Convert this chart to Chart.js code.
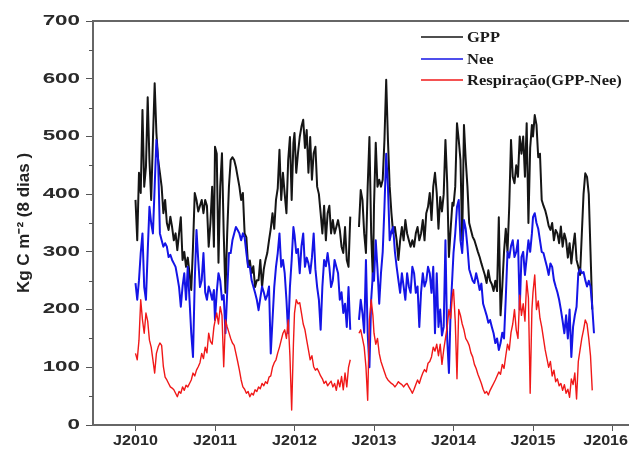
<!DOCTYPE html>
<html>
<head>
<meta charset="utf-8">
<script src="https://cdn.jsdelivr.net/npm/chart.js@4.4.1/dist/chart.umd.min.js"></script>
<style>
  html, body { margin: 0; padding: 0; background: #fff; }
  #wrap { width: 629px; height: 452px; }
</style>
</head>
<body>
<div id="wrap"><canvas id="chart-carbono" width="629" height="452"></canvas></div>
<script>
// 8-day composites, 46 per year, starting J2010
var tickYears = [2010, 2011, 2012, 2013, 2014, 2015, 2016];
var tickLabels = ['J2010', 'J2011', 'J2012', 'J2013', 'J2014', 'J2015', 'J2016'];
var yTicks = [0, 100, 200, 300, 400, 500, 600, 700];
var seriesNames = ['GPP', 'Nee', 'Respiração(GPP-Nee)'];

var gpp = [
  390, 320, 437, 402, 546, 413, 447, 568, 459, 390, 494, 592, 506, 459, 437, 413, 367, 390, 350, 338, 361, 343, 320, 332, 303, 332, 360, 286, 300, 274, 290, 263, 234, 309, 402, 390, 370, 380, 390, 367, 390, 380, 309, 350, 413, 309,
  482, 470, 281, 413, 471, 332, 229, 332, 413, 459, 464, 459, 447, 430, 413, 390, 402, 332, 325, 274, 285, 263, 275, 239, 251, 251, 286, 239, 270, 286, 298, 320, 340, 367, 340, 390, 410, 477, 390, 437, 400, 367, 459, 499, 390, 489,
  506, 437, 471, 499, 517, 529, 480, 511, 437, 499, 425, 471, 482, 413, 400, 367, 332, 380, 320, 367, 380, 332, 355, 332, 343, 355, 338, 309, 298, 343, 286, 274, 361, null, null, null, null, 343, 407, 390, 332, 298, 413, 499, 332, 251,
  380, 489, 413, 425, 413, 425, 494, 598, 494, 413, 367, 332, 343, 320, 286, 320, 343, 320, 355, 332, 320, 309, 320, 309, 332, 343, 320, 332, 355, 320, 367, 378, 402, 355, 413, 437, 402, 340, 395, 370, 400, 494, 420, 291, 340, 385,
  380, 413, 523, 494, 459, 320, 520, 460, 413, 350, 338, 326, 320, 310, 300, 291, 280, 270, 260, 246, 268, 250, 244, 232, 250, 232, 360, 190, 240, 300, 340, 300, 380, 494, 430, 419, 450, 430, 500, 470, 500, 430, 523, 350, 480, 520,
  500, 537, 520, 464, 470, 390, 380, 372, 360, 345, 338, 350, 320, 338, 332, 315, 344, 309, 332, 320, 290, 315, 280, 309, 332, 286, 274, 260, 330, 400, 436, 430, 400, 300, 200
];

var nee = [
  246, 217, 251, 298, 332, 239, 217, 300, 378, 350, 332, 413, 494, 459, 332, 320, 309, 315, 309, 291, 295, 286, 280, 274, 257, 239, 205, 240, 263, 217, 274, 217, 159, 118, 250, 338, 286, 239, 251, 298, 230, 217, 240, 230, 217, 234,
  182, 230, 263, 250, 217, 225, 159, 230, 298, 298, 320, 332, 343, 338, 332, 320, 332, 325, 298, 274, 274, 251, 240, 229, 217, 199, 220, 240, 230, 217, 225, 240, 124, 182, 239, 274, 298, 332, 274, 286, 263, 217, 159, 239, 286, 343,
  330, 298, 305, 263, 310, 332, 274, 290, 280, 263, 290, 332, 270, 239, 217, 165, 240, 286, 275, 298, 274, 239, 251, 286, 274, 263, 217, 230, 194, 210, 170, 239, 165, null, null, null, null, 182, 217, 194, 160, 286, 159, 100, 217, 263,
  250, 320, 270, 210, 263, 300, 378, 470, 413, 320, 335, 343, 300, 274, 251, 229, 263, 240, 217, 263, 240, 229, 274, 263, 229, 240, 170, 230, 263, 240, 250, 274, 263, 229, 274, 159, 263, 170, 200, 155, 170, 320, 150, 90, 200, 260,
  298, 332, 378, 390, 320, 298, 355, 340, 309, 270, 260, 250, 246, 263, 250, 234, 245, 210, 200, 190, 177, 182, 170, 159, 142, 150, 130, 142, 160, 150, 220, 300, 290, 310, 320, 291, 300, 320, 200, 291, 300, 260, 290, 320, 300, 332,
  360, 367, 350, 340, 320, 300, 298, 286, 274, 260, 280, 274, 251, 240, 230, 217, 200, 180, 159, 190, 150, 200, 118, 170, 190, 205, 263, 270, 263, 265, 251, 240, 250, 240, 205, 159
];

var resp = [
  124, 113, 147, 217, 182, 159, 194, 180, 147, 135, 113, 90, 124, 135, 142, 138, 101, 83, 78, 72, 66, 64, 61, 55, 49, 58, 55, 66, 60, 69, 66, 72, 78, 90, 85, 95, 101, 108, 124, 115, 135, 125, 159, 145, 140, 170,
  180, 194, 175, 205, 190, 101, 182, 170, 160, 150, 142, 138, 124, 110, 95, 78, 66, 62, 55, 58, 49, 55, 52, 61, 58, 66, 63, 72, 68, 75, 72, 83, 85, 100, 108, 113, 125, 135, 147, 159, 165, 150, 182, 120, 26, 140,
  194, 217, 210, 212, 194, 175, 165, 147, 130, 113, 120, 101, 95, 98, 92, 85, 80, 72, 76, 68, 72, 76, 66, 72, 60, 78, 66, 84, 61, 90, 66, 100, 113, null, null, null, null, 159, 165, 150, 135, 101, 43, 182, 217, 190,
  159, 140, 150, 124, 110, 101, 92, 83, 78, 75, 72, 70, 66, 70, 75, 72, 70, 66, 70, 72, 66, 61, 55, 62, 70, 78, 72, 82, 90, 96, 92, 107, 110, 118, 135, 128, 140, 120, 140, 105, 130, 150, 170, 200, 185, 225,
  235, 180, 80, 200, 190, 175, 165, 150, 145, 138, 125, 118, 105, 98, 88, 80, 72, 62, 55, 58, 52, 60, 66, 72, 78, 85, 92, 88, 105, 98, 120, 140, 130, 160, 175, 200, 165, 150, 225, 190, 210, 180, 250, 220, 55, 200,
  230, 260, 200, 215, 185, 170, 150, 130, 115, 100, 110, 85, 95, 75, 80, 68, 72, 60, 70, 55, 62, 48, 80, 70, 90, 45, 110, 130, 150, 165, 182, 175, 150, 120, 60
];

var cores = ['#151515', '#1414e6', '#f01818'];
var larguras = [2, 2, 1.4];

// composite index -> decimal year
function pontos(valores) {
  return valores.map(function(v, i) {
    return { x: tickYears[0] + Math.floor(i / 46) + (i % 46) * 8 / 365, y: v };
  });
}

var eixosPlugin = {
  id: 'eixos',
  afterDraw: function(chart) {
    var ctx = chart.ctx, a = chart.chartArea;
    var sx = chart.scales.x, sy = chart.scales.y;
    ctx.save();
    // top frame line
    ctx.strokeStyle = '#666';
    ctx.lineWidth = 2;
    ctx.beginPath();
    ctx.moveTo(a.left, a.top);
    ctx.lineTo(a.right, a.top);
    ctx.stroke();
    // minor y ticks
    ctx.lineWidth = 1;
    ctx.strokeStyle = '#555';
    for (var k = 0; k < yTicks.length - 1; k++) {
      var pm = Math.round(sy.getPixelForValue((yTicks[k] + yTicks[k + 1]) / 2)) + 0.5;
      ctx.beginPath();
      ctx.moveTo(a.left - 4, pm);
      ctx.lineTo(a.left, pm);
      ctx.stroke();
    }
    // y tick labels (wide bold)
    ctx.fillStyle = '#2a2a2a';
    ctx.font = 'bold 14px "Liberation Sans", Arial, sans-serif';
    ctx.textAlign = 'right';
    ctx.textBaseline = 'middle';
    yTicks.forEach(function(v) {
      var py = sy.getPixelForValue(v);
      ctx.save();
      ctx.translate(80, py);
      ctx.scale(1.6, 1);
      ctx.fillText(String(v), 0, 0);
      ctx.restore();
    });
    // x tick labels
    ctx.textAlign = 'center';
    ctx.textBaseline = 'top';
    ctx.font = 'bold 14px "Liberation Sans", Arial, sans-serif';
    tickYears.forEach(function(v, i) {
      var w = ctx.measureText(tickLabels[i]).width * 1.15;
      var px = Math.min(sx.getPixelForValue(v), chart.width - w / 2 - 1);
      ctx.save();
      ctx.translate(px, 434);
      ctx.scale(1.15, 1);
      ctx.fillText(tickLabels[i], 0, 0);
      ctx.restore();
    });
    // legend
    var linhasY = [37, 59, 80];
    ctx.font = 'bold 15px "Liberation Serif", "Times New Roman", serif';
    ctx.textAlign = 'left';
    ctx.textBaseline = 'middle';
    seriesNames.forEach(function(nome, i) {
      ctx.strokeStyle = cores[i];
      ctx.lineWidth = 1.6;
      ctx.beginPath();
      ctx.moveTo(421, linhasY[i]);
      ctx.lineTo(463, linhasY[i]);
      ctx.stroke();
      ctx.fillStyle = '#1a1a1a';
      ctx.save();
      ctx.translate(467, linhasY[i] + 1);
      ctx.scale(1.1, 1);
      ctx.fillText(nome, 0, 0);
      ctx.restore();
    });
    ctx.restore();
  }
};

document.addEventListener('DOMContentLoaded', function() {
  var canvas = document.getElementById('chart-carbono');
  var series = [gpp, nee, resp];

  new Chart(canvas, {
    type: 'line',
    data: {
      datasets: series.map(function(s, i) {
        return {
          label: seriesNames[i],
          data: pontos(s),
          borderColor: cores[i],
          borderWidth: larguras[i],
          pointRadius: 0,
          tension: 0,
          spanGaps: false,
          borderJoinStyle: 'round',
          order: 3 - i
        };
      })
    },
    options: {
      responsive: false,
      animation: false,
      events: [],
      layout: { padding: { top: 21, left: 0, right: 0, bottom: 0 } },
      plugins: { legend: { display: false }, tooltip: { enabled: false } },
      scales: {
        x: {
          type: 'linear',
          min: 2009.4654,
          max: 2016.2075,
          afterBuildTicks: function(s) { s.ticks = tickYears.map(function(v) { return { value: v }; }); },
          afterFit: function(s) { s.height = 27; },
          ticks: { display: false },
          grid: { drawOnChartArea: false, tickLength: 6, color: '#555', lineWidth: 1 },
          border: { color: '#666', width: 2 }
        },
        y: {
          min: 0,
          max: 700,
          afterBuildTicks: function(s) { s.ticks = yTicks.map(function(v) { return { value: v }; }); },
          afterFit: function(s) { s.width = 93; },
          ticks: { display: false },
          grid: { drawOnChartArea: false, tickLength: 7, color: '#555', lineWidth: 1 },
          border: { color: '#666', width: 2 },
          title: {
            display: true,
            text: 'Kg C m⁻² (8 dias )',
            color: '#222',
            font: { family: '"Liberation Sans", Arial, sans-serif', size: 17, weight: 'bold' },
            padding: { top: 14, bottom: 0 }
          }
        }
      }
    },
    plugins: [eixosPlugin]
  });
});
</script>
</body>
</html>
